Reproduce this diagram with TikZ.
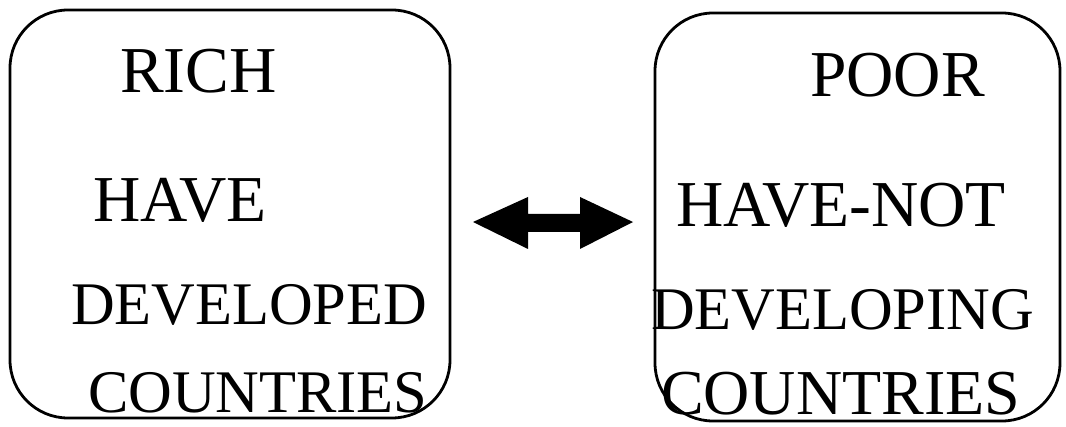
\documentclass[tikz,border=0pt]{standalone}
\usepackage{fontspec}
\setmainfont{Liberation Serif}
\begin{document}
\begin{tikzpicture}[x=1pt,y=-1pt,
  panel/.style={draw=black,line width=2.8pt,rounded corners=58pt},
  word/.style={anchor=base west,inner sep=0pt,outer sep=0pt},
  big/.style={font=\fontsize{65.5}{65.5}\selectfont},
  mid/.style={font=\fontsize{60.5}{60.5}\selectfont},
  midr/.style={font=\fontsize{64}{64}\selectfont}]
\useasboundingbox (0,0) rectangle (1066,427);
\fill[white] (0,0) rectangle (1066,427);

% the two groups of countries
\draw[panel] (10,10) rectangle (450,418);
\draw[panel] (655,13) rectangle (1060,421);

% left group
\node[word,big] (rich) at (120,93) {RICH};
\node[word,big] (have) at (93,222) {HAVE};
\node[word,mid] (developed) at (71,325) {DEVELOPED};
\node[word,mid] (ctryl) at (88,413) {COUNTRIES};

% right group
\node[word,big] (poor) at (810,97) {POOR};
\node[word,big] (havenot) at (676,227) {HAVE-NOT};
\node[word,mid] (developing) at (651,330) {DEVELOPING};
\node[word,midr] (ctryr) at (661,415) {COUNTRIES};

% double-headed block arrow between the groups
\coordinate (tipl) at (473,222);
\coordinate (tipr) at (633,222);
\fill[black] (tipl) -- (528,197) -- (528,214) -- (580,214) -- (580,197)
  -- (tipr) -- (580,249) -- (580,232) -- (528,232) -- (528,249) -- cycle;
\end{tikzpicture}
\end{document}
